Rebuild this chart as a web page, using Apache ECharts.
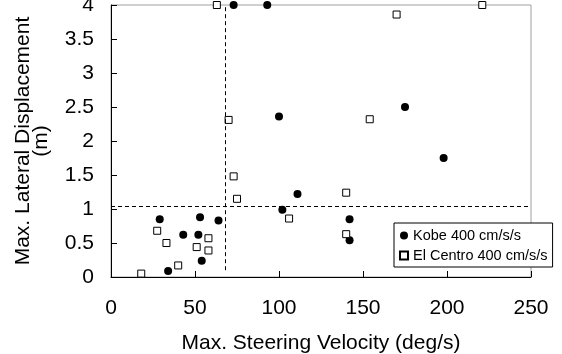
<!DOCTYPE html>
<html>
<head>
<meta charset="utf-8">
<script src="https://cdn.jsdelivr.net/npm/echarts@6/dist/echarts.min.js"></script>
<style>
    html, body { margin: 0; padding: 0; background: #fff; }
    #chart { width: 562px; height: 354px; }
</style>
</head>
<body>
<div id="chart"></div>
<script>
    // Kobe 400 cm/s/s  [steering velocity, lateral displacement]
    var kobeVel  = [73, 93, 100, 175, 198, 111, 102, 142, 142, 29, 53, 64, 43, 52, 54, 34];
    var kobeDisp = [4.0, 4.0, 2.36, 2.50, 1.75, 1.22, 0.99, 0.85, 0.54, 0.85, 0.88, 0.83, 0.62, 0.62, 0.24, 0.09];

    // El Centro 400 cm/s/s
    var elcVel  = [63, 70, 170, 221, 154, 73, 75, 27.5, 33, 58, 51, 58, 40, 18, 106, 140, 140];
    var elcDisp = [4.0, 2.31, 3.86, 4.0, 2.32, 1.48, 1.15, 0.68, 0.50, 0.57, 0.44, 0.39, 0.17, 0.05, 0.86, 1.24, 0.63];

    // dashed threshold lines
    var limitVel = 68;
    var limitDisp = 1.04;
    var limitVelFrom = 0.1;

    var xTicks = [0, 50, 100, 150, 200, 250];
    var yTicks = [0, 0.5, 1, 1.5, 2, 2.5, 3, 3.5, 4];

    function pairs(xs, ys) {
        var out = [];
        xs.forEach(function (x, i) { out.push([x, ys[i]]); });
        return out;
    }

    var font = '"Liberation Sans", Arial, sans-serif';
    var chart = echarts.init(document.getElementById('chart'));

    var option = {
        animation: false,
        textStyle: { fontFamily: font, color: '#000' },
        grid: {
            left: 111, right: 31, top: 5, bottom: 77,
            outerBoundsMode: 'none',
            containLabel: false,
            show: true, borderColor: '#a0a0a0', borderWidth: 1
        },
        legend: {
            orient: 'vertical',
            left: 394, top: 223,
            backgroundColor: '#fff',
            borderColor: '#000', borderWidth: 1,
            padding: [5, 5, 4, 5],
            itemGap: 5,
            itemWidth: 8, itemHeight: 8,
            textStyle: { fontFamily: font, fontSize: 14.5, color: '#000' },
            data: ['Kobe 400 cm/s/s', 'El Centro 400 cm/s/s']
        },
        xAxis: {
            type: 'value',
            min: xTicks[0], max: xTicks[xTicks.length - 1], interval: 50,
            name: 'Max. Steering Velocity (deg/s)',
            nameLocation: 'middle', nameGap: 56,
            nameTextStyle: { fontFamily: font, fontSize: 21, color: '#000' },
            axisLine: { lineStyle: { color: '#000', width: 1 } },
            axisTick: { inside: true, length: 6, lineStyle: { color: '#000' } },
            axisLabel: { fontFamily: font, fontSize: 21, color: '#000', margin: 21 },
            splitLine: { show: false }
        },
        yAxis: {
            type: 'value',
            min: yTicks[0], max: yTicks[yTicks.length - 1], interval: 0.5,
            axisLine: { show: true, lineStyle: { color: '#000', width: 1 } },
            axisTick: { show: true, inside: true, length: 6, lineStyle: { color: '#000' } },
            axisLabel: { fontFamily: font, fontSize: 21, color: '#000', margin: 17 },
            splitLine: { show: false }
        },
        graphic: [
            {
                type: 'text', x: 23, y: 141, rotation: Math.PI / 2,
                style: {
                    text: 'Max. Lateral Displacement', font: '21px ' + font,
                    fill: '#000', textAlign: 'center', textVerticalAlign: 'middle'
                }
            },
            {
                type: 'text', x: 41, y: 141, rotation: Math.PI / 2,
                style: {
                    text: '(m)', font: '21px ' + font,
                    fill: '#000', textAlign: 'center', textVerticalAlign: 'middle'
                }
            }
        ],
        series: [
            {
                name: 'Kobe 400 cm/s/s',
                type: 'scatter',
                symbol: 'circle',
                symbolSize: 8,
                clip: false,
                itemStyle: { color: '#000', opacity: 1 },
                data: pairs(kobeVel, kobeDisp),
                markLine: {
                    silent: true,
                    symbol: 'none',
                    label: { show: false },
                    lineStyle: { color: '#000', type: [4, 3], width: 1, opacity: 1 },
                    data: [
                        [{ coord: [limitVel, limitVelFrom] }, { coord: [limitVel, yTicks[yTicks.length - 1]] }],
                        [{ coord: [xTicks[0], limitDisp] }, { coord: [xTicks[xTicks.length - 1], limitDisp] }]
                    ]
                }
            },
            {
                name: 'El Centro 400 cm/s/s',
                type: 'scatter',
                symbol: 'rect',
                symbolSize: 7,
                clip: false,
                itemStyle: { color: '#fff', borderColor: '#000', borderWidth: 1, opacity: 1 },
                data: pairs(elcVel, elcDisp)
            }
        ]
    };

    chart.setOption(option);
</script>
</body>
</html>
